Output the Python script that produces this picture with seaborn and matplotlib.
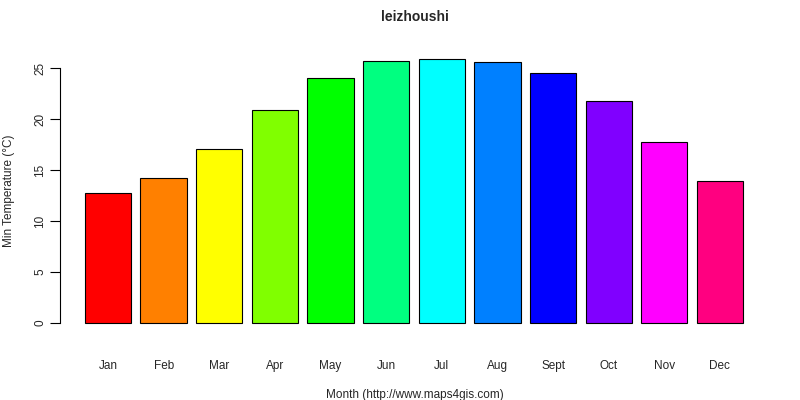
import matplotlib
matplotlib.use('Agg')
import matplotlib.pyplot as plt
import seaborn as sns
import pandas as pd

months = ['Jan', 'Feb', 'Mar', 'Apr', 'May', 'Jun', 'Jul', 'Aug', 'Sept', 'Oct', 'Nov', 'Dec']
min_temp = [12.8, 14.2, 17.1, 20.9, 24.1, 25.7, 25.9, 25.6, 24.5, 21.8, 17.8, 13.9]
colors = ['#FF0000', '#FF8000', '#FFFF00', '#80FF00', '#00FF00', '#00FF80',
          '#00FFFF', '#0080FF', '#0000FF', '#8000FF', '#FF00FF', '#FF0080']

sns.set_style('white')
plt.rcParams['font.family'] = ['Liberation Sans', 'DejaVu Sans']

df = pd.DataFrame({'month': months, 'temp': min_temp})
fig = plt.figure(figsize=(8, 4), dpi=100)
ax = fig.add_axes([60 / 800, 1 - 333.6 / 400, 710 / 800, 285 / 400])
sns.barplot(data=df, x='month', y='temp', hue='month', palette=colors, legend=False,
            width=0.833, edgecolor='black', linewidth=0.8, saturation=1, ax=ax)

ax.set_xlim(-0.863, 11.9)
ax.set_ylim(-1.036, 26.94)
for s in ['top', 'right', 'bottom']:
    ax.spines[s].set_visible(False)
ax.spines['left'].set_bounds(0, 25)
ax.spines['left'].set_color('black')
ax.set_yticks([0, 5, 10, 15, 20, 25])
ax.tick_params(axis='y', length=7, color='black', labelsize=8.5, pad=3, left=True)
for t in ax.get_yticklabels():
    t.set_rotation(90)
    t.set_va('center')
ax.tick_params(axis='x', length=0, labelsize=8.5, pad=19)
ax.set_xlabel('Month (http://www.maps4gis.com)', fontsize=8.5, labelpad=12)
ax.set_ylabel('Min Temperature (°C)', fontsize=8.5, labelpad=14)
ax.set_title('leizhoushi', fontsize=10, fontweight='bold', pad=20)

fig.savefig('out.png', dpi=100)
